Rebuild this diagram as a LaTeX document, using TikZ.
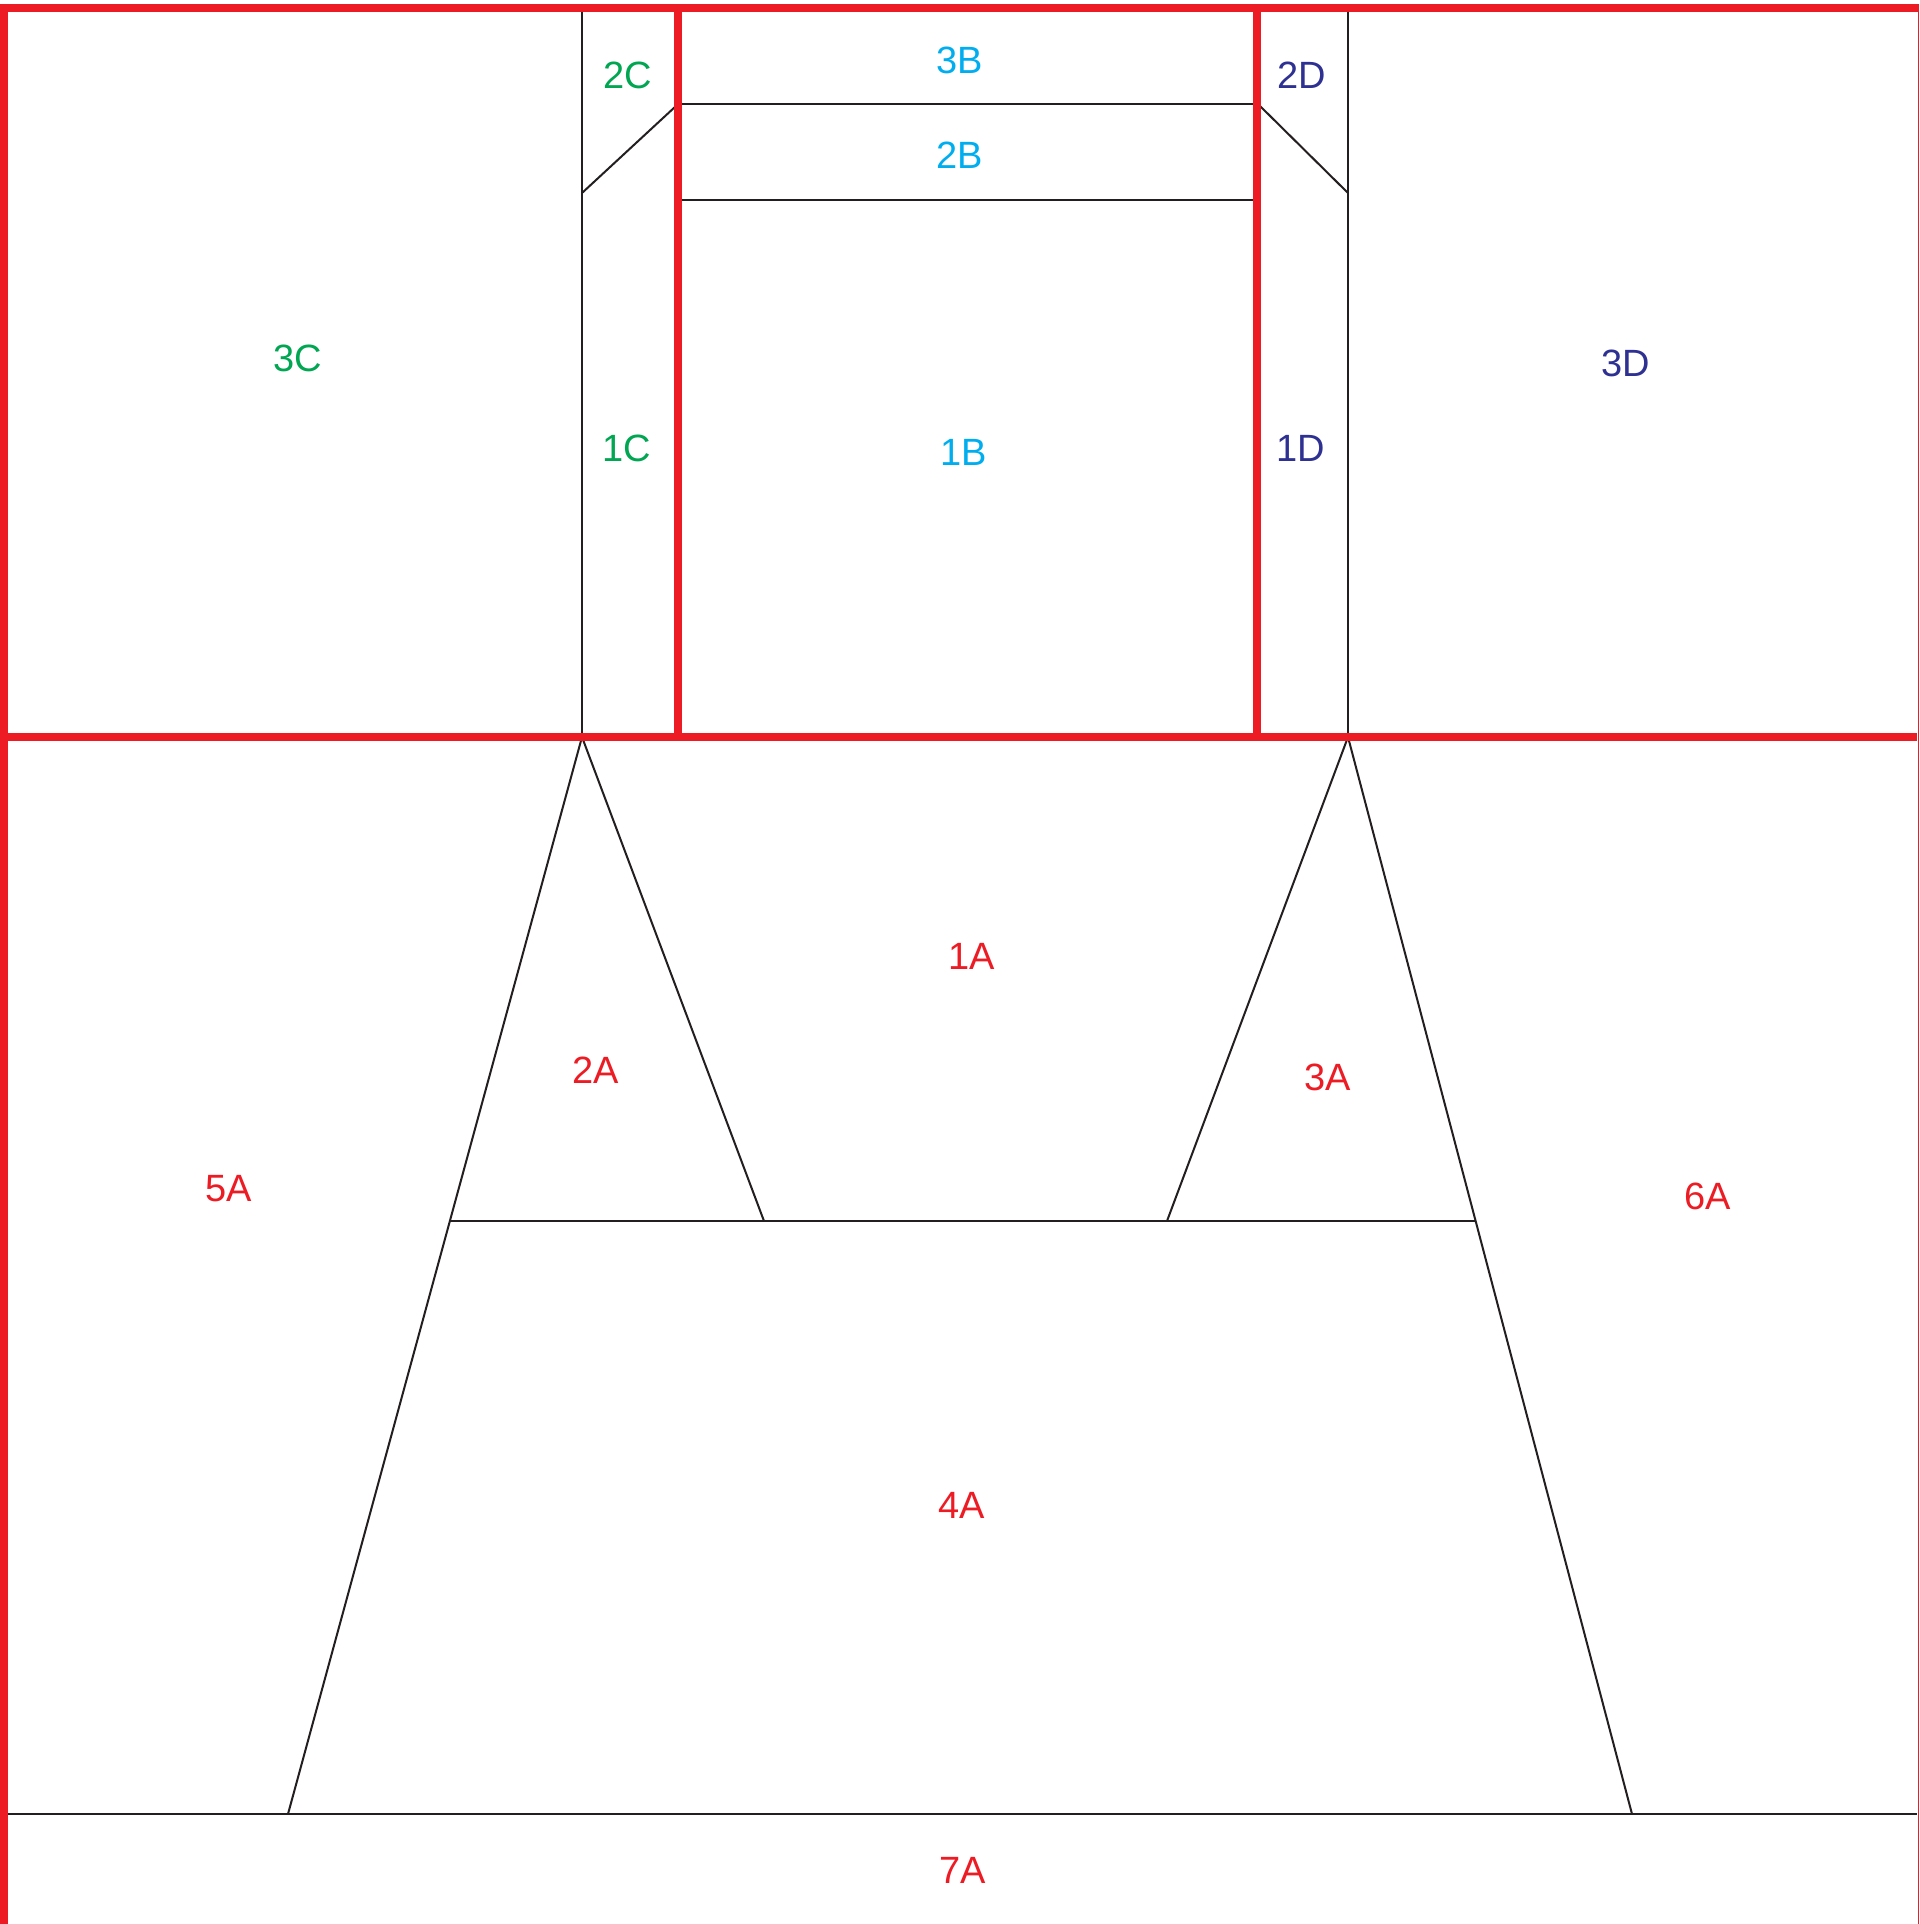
\documentclass[tikz,border=0pt]{standalone}
\usepackage{fontspec}
\setmainfont{Liberation Sans}
\definecolor{qred}{RGB}{237,28,36}
\definecolor{qgreen}{RGB}{0,166,81}
\definecolor{qcyan}{RGB}{0,174,239}
\definecolor{qnavy}{RGB}{46,49,146}
\definecolor{qblack}{RGB}{35,31,32}
\begin{document}
\begin{tikzpicture}[x=0.5pt,y=-0.5pt,
  seam/.style={draw=qblack,line width=1pt},
  border/.style={draw=qred,line width=4pt},
  thinborder/.style={draw=qred,line width=0.8pt},
  lbl/.style={font=\fontsize{19}{19}\selectfont,inner sep=0pt},
  lblA/.style={lbl,text=qred},
  lblB/.style={lbl,text=qcyan},
  lblC/.style={lbl,text=qgreen},
  lblD/.style={lbl,text=qnavy}]
\useasboundingbox (0,0) rectangle (1919,1924);
\fill[white] (0,0) rectangle (1919,1924);
% black seams, top part
\draw[seam] (582,12) -- (582,737);
\draw[seam] (1348,12) -- (1348,737);
\draw[seam] (582,193) -- (676,106);
\draw[seam] (1260,106) -- (1348,193);
\draw[seam] (680,104) -- (1255,104);
\draw[seam] (680,200) -- (1255,200);
% black seams, bottom part
\draw[seam] (582,737) -- (288,1814);
\draw[seam] (582,737) -- (764,1221);
\draw[seam] (1348,737) -- (1167,1221);
\draw[seam] (1348,737) -- (1632,1814);
\draw[seam] (450,1221) -- (1475,1221);
\draw[seam] (8,1814) -- (1917,1814);
% red borders
\draw[thinborder] (1918.5,4) -- (1918.5,1924);
\draw[border] (0,8) -- (1919,8);
\draw[border] (4,4) -- (4,1924);
\draw[border] (0,737) -- (1917,737);
\draw[border] (678,8) -- (678,737);
\draw[border] (1257,8) -- (1257,737);
% labels
\node[lblB] (l3B) at (960,60) {3B};
\node[lblB] (l2B) at (960,155) {2B};
\node[lblB] (l1B) at (964,452) {1B};
\node[lblC] (l2C) at (628,75) {2C};
\node[lblC] (l1C) at (627,448) {1C};
\node[lblC] (l3C) at (298,358) {3C};
\node[lblD] (l2D) at (1302,75) {2D};
\node[lblD] (l1D) at (1301,448) {1D};
\node[lblD] (l3D) at (1626,363) {3D};
\node[lblA] (l1A) at (972,956) {1A};
\node[lblA] (l2A) at (596,1070) {2A};
\node[lblA] (l3A) at (1328,1077) {3A};
\node[lblA] (l4A) at (962,1505) {4A};
\node[lblA] (l5A) at (229,1189) {5A};
\node[lblA] (l6A) at (1708,1196) {6A};
\node[lblA] (l7A) at (963,1870) {7A};
\end{tikzpicture}
\end{document}
